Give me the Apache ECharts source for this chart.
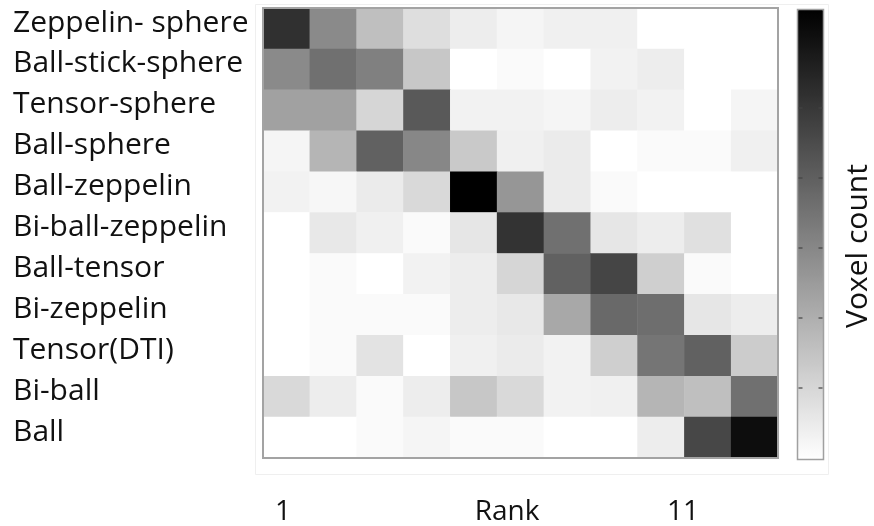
<!DOCTYPE html>
<html>
<head>
<meta charset="utf-8">
<style>
  html, body { margin: 0; padding: 0; background: #ffffff; }
  #chart { width: 874px; height: 526px; }
</style>
<script src="https://cdn.jsdelivr.net/npm/echarts@6/dist/echarts.min.js"></script>
</head>
<body>
<div id="chart"></div>
<script>
// Model names, top to bottom
const models = [
  'Zeppelin- sphere', 'Ball-stick-sphere', 'Tensor-sphere', 'Ball-sphere',
  'Ball-zeppelin', 'Bi-ball-zeppelin', 'Ball-tensor', 'Bi-zeppelin',
  'Tensor(DTI)', 'Bi-ball', 'Ball'
];
// Rank positions 1..11
const ranks = ['1', '2', '3', '4', '5', '6', '7', '8', '9', '10', '11'];

// Voxel counts per rank (relative scale 0-100), one row per model
const zeppelinSphere  = [81, 46, 25, 13, 7, 4, 6, 6, 0, 0, 0];
const ballStickSphere = [46, 56, 50, 22, 0, 2, 0, 5, 7, 0, 0];
const tensorSphere    = [37, 37, 16, 65, 5, 5, 4, 7, 5, 0, 4];
const ballSphere      = [4, 29, 62, 47, 21, 6, 8, 0, 2, 2, 6];
const ballZeppelin    = [5, 3, 8, 15, 100, 41, 8, 2, 0, 0, 0];
const biBallZeppelin  = [0, 9, 6, 2, 10, 80, 56, 10, 7, 12, 0];
const ballTensor      = [0, 2, 0, 5, 7, 16, 62, 73, 19, 2, 0];
const biZeppelin      = [0, 2, 2, 2, 7, 9, 34, 59, 57, 10, 7];
const tensorDTI       = [0, 2, 11, 0, 6, 8, 5, 19, 54, 62, 20];
const biBall          = [15, 7, 2, 7, 22, 15, 5, 6, 29, 25, 56];
const ball            = [0, 0, 2, 4, 2, 2, 0, 0, 7, 72, 95];

const rows = [
  zeppelinSphere, ballStickSphere, tensorSphere, ballSphere, ballZeppelin,
  biBallZeppelin, ballTensor, biZeppelin, tensorDTI, biBall, ball
];

// Bottom annotation texts
const rankStart = '1';
const rankTitle = 'Rank';
const rankEnd = '11';
const colorbarTitle = 'Voxel count';

const cells = [];
rows.forEach((row, r) => row.forEach((v, c) => cells.push([c, r, v])));

const FONT = '"Open Sans"';
const FSIZE = 30;
const GRID = { left: 263, top: 8, width: 515, height: 450 };
const BAR = { x: 797.5, y: 9.5, w: 26, h: 450 };

// Colour-bar tick marks (small dashes on both edges)
const barTicks = [108, 178, 248, 318, 388];
const tickGraphics = [];
barTicks.forEach(y => {
  tickGraphics.push({ type: 'line', shape: { x1: BAR.x + 1, y1: y, x2: BAR.x + 5, y2: y },
    style: { stroke: '#444', lineWidth: 1.2 }, z: 100 });
  tickGraphics.push({ type: 'line', shape: { x1: BAR.x + BAR.w - 5, y1: y, x2: BAR.x + BAR.w - 1, y2: y },
    style: { stroke: '#444', lineWidth: 1.2 }, z: 100 });
});

const textStyle = (t, size) => ({ text: t, font: size + 'px ' + FONT, fill: '#111', align: 'center', verticalAlign: 'middle' });

const chart = echarts.init(document.getElementById('chart'), null, { renderer: 'canvas' });
chart.setOption({
  animation: false,
  backgroundColor: '#ffffff',
  grid: {
    left: GRID.left, top: GRID.top, width: GRID.width, height: GRID.height,
    show: true, borderColor: '#a3a3a3', borderWidth: 2, backgroundColor: 'transparent', z: 5
  },
  xAxis: {
    type: 'category', data: ranks,
    axisLine: { show: false }, axisTick: { show: false }, axisLabel: { show: false },
    splitLine: { show: false }
  },
  yAxis: {
    type: 'category', data: models, inverse: true,
    axisLine: { show: false }, axisTick: { show: false }, splitLine: { show: false },
    axisLabel: {
      align: 'left', margin: GRID.left - 13,
      fontFamily: 'Open Sans', fontSize: FSIZE, color: '#111',
      verticalAlign: 'bottom', lineHeight: 11
    }
  },
  visualMap: {
    type: 'continuous', min: 0, max: 100, calculable: false,
    orient: 'vertical', left: BAR.x, top: BAR.y,
    itemWidth: BAR.w, itemHeight: BAR.h, padding: 0,
    text: null, showLabel: false, hoverLink: false,
    inRange: { color: ['#ffffff', '#000000'] }
  },
  series: [{
    type: 'heatmap', data: cells,
    itemStyle: { borderWidth: 0 },
    emphasis: { disabled: true }
  }],
  graphic: [
    // faint outer frame
    { type: 'rect', shape: { x: 255.5, y: 4.5, width: 573, height: 470 },
      style: { fill: null, stroke: '#efefef', lineWidth: 1 }, z: 0 },
    // colour-bar outline
    { type: 'rect', shape: { x: BAR.x, y: BAR.y, width: BAR.w, height: BAR.h },
      style: { fill: null, stroke: '#a0a0a0', lineWidth: 1.5 }, z: 100 },
    ...tickGraphics,
    { type: 'text', x: 858, y: 246, rotation: Math.PI / 2, style: textStyle(colorbarTitle, FSIZE) },
    { type: 'text', x: 283, y: 512, style: textStyle(rankStart, 28) },
    { type: 'text', x: 507, y: 512, style: textStyle(rankTitle, 28) },
    { type: 'text', x: 683, y: 512, style: textStyle(rankEnd, 28) }
  ]
});
</script>
</body>
</html>
